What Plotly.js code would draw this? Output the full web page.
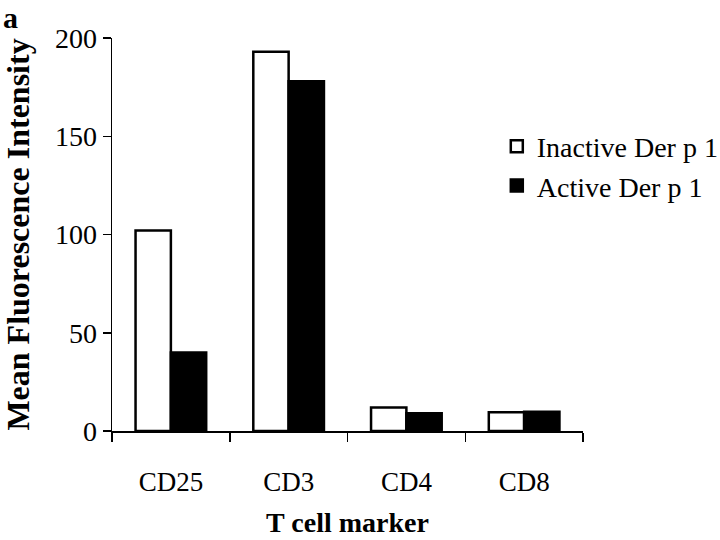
<!DOCTYPE html>
<html>
<head>
<meta charset="utf-8">
<script src="https://cdn.plot.ly/plotly-3.0.1.min.js"></script>
<style>html,body{margin:0;padding:0;background:#fff;}#chart{width:720px;height:540px;}</style>
</head>
<body>
<div id="chart"></div>
<script>
var categories = ["CD25", "CD3", "CD4", "CD8"];
var inactiveValues = [102, 193, 12, 9.5];
var activeValues = [40, 178, 9, 9.8];
var seriesNames = ["Inactive Der p 1", "Active Der p 1"];
var yTicks = [0, 50, 100, 150, 200];

var font = "Liberation Serif, Times New Roman, serif";
var traces = [
  {type: "bar", name: seriesNames[0], x: categories, y: inactiveValues,
   marker: {color: "#ffffff", line: {color: "#000000", width: 2.5}}},
  {type: "bar", name: seriesNames[1], x: categories, y: activeValues,
   marker: {color: "#000000", line: {color: "#000000", width: 2.5}}}
];
var layout = {
  width: 720, height: 540,
  paper_bgcolor: "#ffffff", plot_bgcolor: "#ffffff",
  margin: {l: 112, r: 137, t: 38, b: 109, autoexpand: false},
  barmode: "group", bargap: 0.4, bargroupgap: 0,
  font: {family: font, color: "#000000", size: 26},
  showlegend: true,
  legend: {xref: "container", yref: "container", x: 0.69, y: 0.775, xanchor: "left", yanchor: "top",
           bgcolor: "rgba(0,0,0,0)", font: {family: font, size: 28}, itemwidth: 30},
  xaxis: {
    type: "category", range: [-0.5, 3.5], automargin: false,
    showline: true, linecolor: "#000", linewidth: 1.5,
    ticks: "outside", tickson: "boundaries", ticklen: 9, tickcolor: "#000", tickwidth: 1.5,
    ticklabelstandoff: 26,
    tickfont: {family: font, size: 27},
    showgrid: false, zeroline: false,
    title: {text: "<b>T cell marker</b>", font: {family: font, size: 28}, standoff: 16}
  },
  yaxis: {
    range: [0, 200], tickvals: yTicks, automargin: false,
    showline: true, linecolor: "#000", linewidth: 1.5,
    ticks: "outside", ticklen: 8, tickcolor: "#000", tickwidth: 1.5,
    tickfont: {family: font, size: 28},
    showgrid: false, zeroline: false,
    title: {text: "<b>Mean Fluorescence Intensity</b>", font: {family: font, size: 32}, standoff: 15}
  },
  annotations: [
    {text: "<b>a</b>", xref: "paper", yref: "paper", x: -0.235, y: 1.098, xanchor: "left", yanchor: "top",
     showarrow: false, font: {family: font, size: 30}}
  ]
};
Plotly.newPlot("chart", traces, layout, {displayModeBar: false, staticPlot: true});
</script>
</body>
</html>
